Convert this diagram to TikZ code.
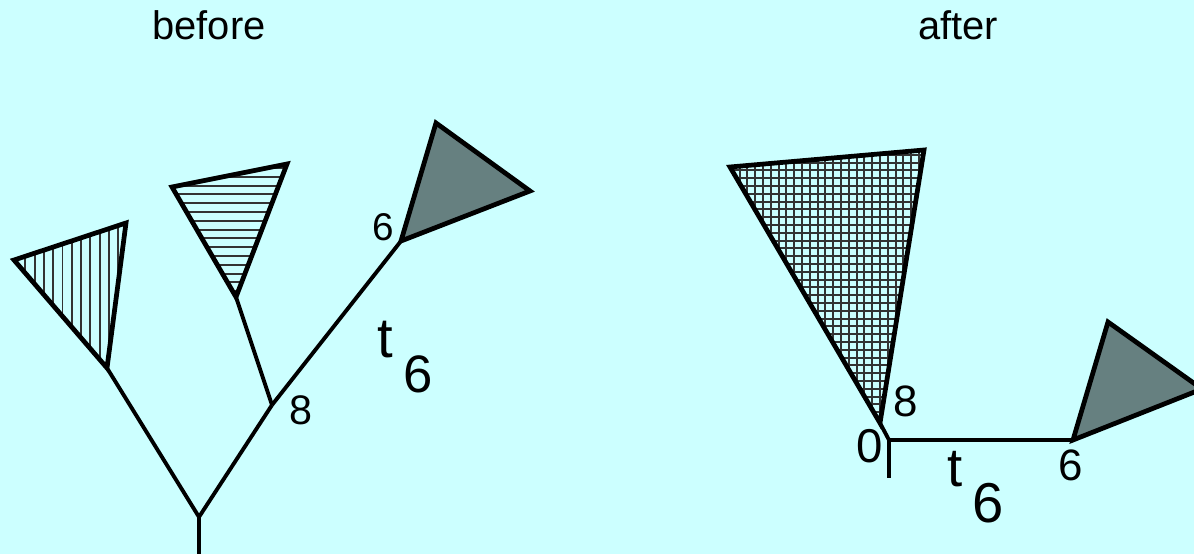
\documentclass[tikz,border=0pt]{standalone}
\usepackage{fontspec}
\setmainfont{Liberation Sans}
\definecolor{bg}{HTML}{CCFFFF}
\definecolor{leaf}{HTML}{668080}
\begin{document}
\begin{tikzpicture}[x=0.02cm,y=-0.02cm,
  branch/.style={line width=2.2pt,line cap=butt},
  tri/.style={line width=2.7pt,line join=miter},
  hatch/.style={line width=1.1pt,draw=black!80},
  lbl/.style={inner sep=0pt,anchor=center},
  fs/.style={font=\fontsize{#1}{#1}\selectfont}]
\fill[bg] (0,0) rectangle (1194,554);
\useasboundingbox (0,0) rectangle (1194,554);
\clip (0,0) rectangle (1194,554);

% titles
\node[lbl,fs=22.7pt] (before) at (209,25) {before};
\node[lbl,fs=22.7pt] (after) at (958,25) {after};

% ---------- left tree ----------
\coordinate (rootL) at (199,554);
\coordinate (jL) at (199,517);
\coordinate (vA) at (107,368);
\coordinate (n8) at (272,405);
\coordinate (hA) at (236,297);
\coordinate (n6) at (401,241);
% vertical hatched triangle
\coordinate (v1) at (14,260);
\coordinate (v2) at (126,223);
% horizontal hatched triangle
\coordinate (h1) at (172,187);
\coordinate (h2) at (287,164);
% gray triangle
\coordinate (g1) at (436,123);
\coordinate (g2) at (530,191);

\begin{scope}
  \clip (v1) -- (v2) -- (vA) -- cycle;
  \foreach \i in {0,...,14} \draw[hatch] (16+9.3*\i,200) -- (16+9.3*\i,380);
\end{scope}
\draw[tri] (v1) -- (v2) -- (vA) -- cycle;

\begin{scope}
  \clip (h1) -- (h2) -- (hA) -- cycle;
  \foreach \i in {0,...,16} \draw[hatch] (160,168+8.8*\i) -- (300,168+8.8*\i);
\end{scope}
\draw[tri] (h1) -- (h2) -- (hA) -- cycle;

\draw[tri,fill=leaf] (n6) -- (g1) -- (g2) -- cycle;

\draw[branch] (rootL) -- (jL);
\draw[branch] (jL) -- (vA);
\draw[branch] (jL) -- (n8);
\draw[branch] (n8) -- (hA);
\draw[branch] (n8) -- (n6);

\node[lbl,fs=22pt] (l6) at (383,227) {6};
\node[lbl,fs=23.5pt] (l8) at (301,410) {8};
\node[lbl,fs=32pt] (lt) at (385,340) {t};
\node[lbl,fs=30pt] (lt6) at (418,374) {6};

% ---------- right tree ----------
\coordinate (jR) at (889,440);
\coordinate (downR) at (889,478);
\coordinate (gA) at (880,423);
\coordinate (r6) at (1073,440);
\coordinate (c1) at (730,167);
\coordinate (c2) at (924,150);
\coordinate (q1) at (1108,322);
\coordinate (q2) at (1202,389);

\begin{scope}
  \clip (c1) -- (c2) -- (gA) -- cycle;
  \foreach \i in {0,...,28} \draw[hatch] (724+7.8*\i,140) -- (724+7.8*\i,440);
  \foreach \i in {0,...,38} \draw[hatch] (720,147+7.8*\i) -- (940,147+7.8*\i);
\end{scope}
\draw[tri] (c1) -- (c2) -- (gA) -- cycle;

\draw[tri,fill=leaf] (r6) -- (q1) -- (q2) -- cycle;

\draw[branch] (gA) -- (jR);
\draw[branch] (jR) -- (r6);
\draw[branch] (jR) -- (downR);

\node[lbl,fs=25pt] (r8) at (906,401) {8};
\node[lbl,fs=27pt] (r0) at (870,446) {0};
\node[lbl,fs=31pt] (rt) at (955,469) {t};
\node[lbl,fs=32pt] (rt6) at (988,503) {6};
\node[lbl,fs=25pt] (r6l) at (1071,465) {6};
\end{tikzpicture}
\end{document}
